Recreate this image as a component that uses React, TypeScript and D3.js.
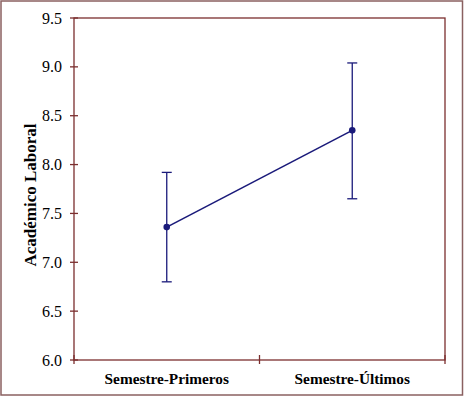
import * as d3 from 'd3';

const categories = ['Semestre-Primeros', 'Semestre-Últimos'];
const means = [7.36, 8.35];
const lower = [6.8, 7.65];
const upper = [7.92, 9.04];
const yTicks = [6.0, 6.5, 7.0, 7.5, 8.0, 8.5, 9.0, 9.5];

const W = 464;
const H = 396;
const frame = '#7b2e2e';
const navy = '#1a1a7a';
const font = '"Liberation Serif", "Times New Roman", serif';

export default function App(): JSX.Element {
  const left = 74;
  const right = 445;
  const top = 18;
  const bottom = 360;

  const x = d3.scaleBand().domain(categories).range([left, right]);
  const y = d3.scaleLinear().domain([6, 9.5]).range([bottom, top]);
  const cx = (c: string) => (x(c) as number) + x.bandwidth() / 2;

  const line = d3
    .line<number>()
    .x((_, i) => cx(categories[i]))
    .y((d) => y(d));

  return (
    <svg
      width={W}
      height={H}
      style={{ position: 'absolute', left: 0, top: 0 }}
      fontFamily={font}
    >
      <rect x={0} y={0} width={W} height={H} fill="#fff" />
      <rect x={1} y={1} width={W - 2.5} height={H - 2} fill="none" stroke="#8a6060" strokeWidth={1.5} />
      {/* plot frame */}
      <rect x={left} y={top} width={right - left} height={bottom - top} fill="none" stroke={frame} strokeWidth={1.3} />
      {/* y ticks */}
      {yTicks.map((t) => (
        <g key={t}>
          <line x1={left - 4} x2={left + 4} y1={y(t)} y2={y(t)} stroke={frame} strokeWidth={1.3} />
          <text x={62} y={y(t)} dy="0.35em" textAnchor="end" fontSize={16} fill="#000">
            {d3.format('.1f')(t)}
          </text>
        </g>
      ))}
      {/* x ticks */}
      {[left, x(categories[1]) as number, right].map((v, i) => (
        <line key={i} x1={v} x2={v} y1={bottom - 5} y2={bottom + 4} stroke={frame} strokeWidth={1.3} />
      ))}
      {categories.map((c) => (
        <text key={c} x={cx(c)} y={384} textAnchor="middle" fontSize={15.3} fontWeight="bold" fill="#000">
          {c}
        </text>
      ))}
      <text
        transform={`translate(36,195) rotate(-90)`}
        textAnchor="middle"
        fontSize={17}
        fontWeight="bold"
        fill="#000"
      >
        Académico Laboral
      </text>
      {/* error bars */}
      {categories.map((c, i) => (
        <g key={c} stroke={navy} strokeWidth={1.3}>
          <line x1={cx(c)} x2={cx(c)} y1={y(lower[i])} y2={y(upper[i])} />
          <line x1={cx(c) - 5} x2={cx(c) + 5} y1={y(lower[i])} y2={y(lower[i])} />
          <line x1={cx(c) - 5} x2={cx(c) + 5} y1={y(upper[i])} y2={y(upper[i])} />
        </g>
      ))}
      <path d={line(means) as string} fill="none" stroke={navy} strokeWidth={1.6} />
      {means.map((m, i) => (
        <circle key={i} cx={cx(categories[i])} cy={y(m)} r={3.3} fill={navy} />
      ))}
    </svg>
  );
}
